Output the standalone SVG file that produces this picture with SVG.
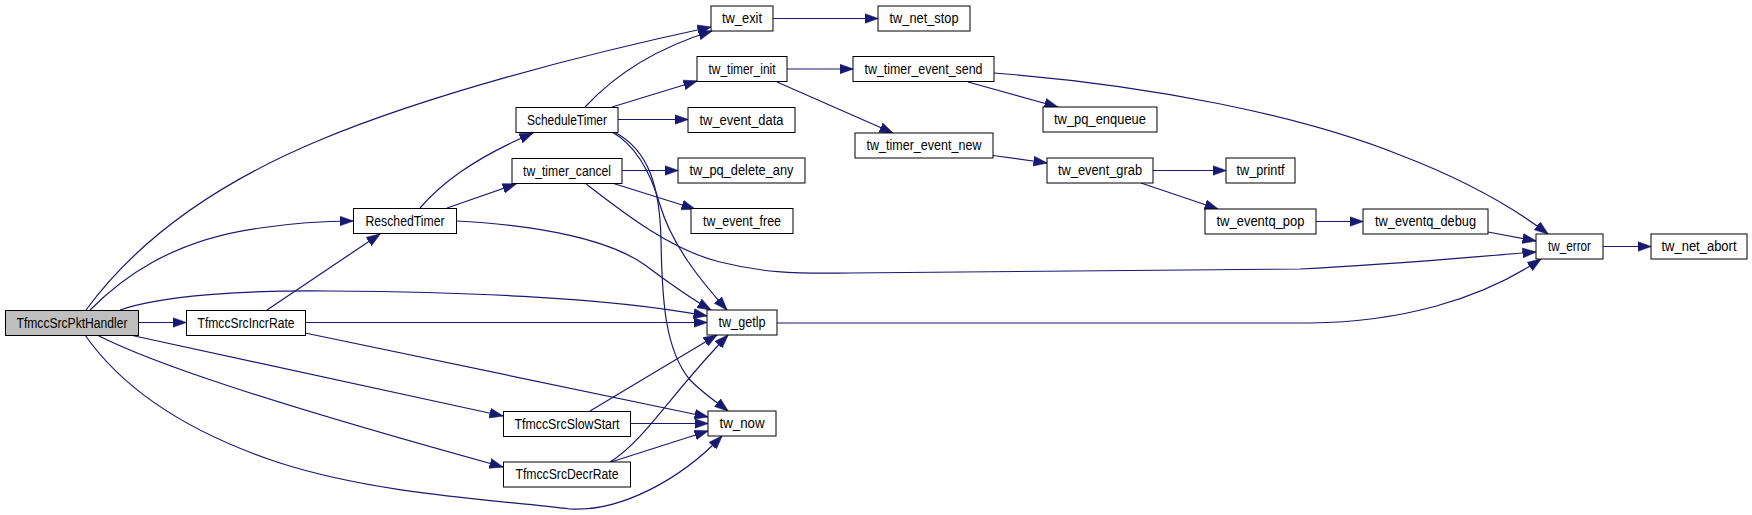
<svg xmlns="http://www.w3.org/2000/svg" width="1752" height="515" viewBox="0 0 1752 515">
<defs>
<marker id="ah" markerUnits="userSpaceOnUse" markerWidth="14" markerHeight="11" viewBox="0 0 14 11" refX="13.5" refY="5.5" orient="auto">
<path d="M0,0.5 L14,5.5 L0,10.5 z" fill="#191970" stroke="#191970" stroke-width="0.5"/>
</marker>
<style>
.n rect{fill:#fff;stroke:#000;stroke-width:1}
.n.root rect{fill:#bfbfbf}
.n text{font-family:"Liberation Sans",Arial,sans-serif;font-size:14px;fill:#000;text-anchor:middle}
#edges path{fill:none;stroke:#191970;stroke-width:1.2;marker-end:url(#ah)}
</style>
</defs>
<rect width="1752" height="515" fill="#fff"/>
<g id="edges">
<path d="M86,310 C130,250 200,190 320,140 C428,95 580,55 711,27"/>
<path d="M90,310 C120,280 170,240 260,228 C300,222 330,221 353,221"/>
<path d="M120,310 C160,296 240,290 330,291 C450,292 600,296 707,316"/>
<path d="M138,322.5 L186,322.5"/>
<path d="M130,335 L503,416"/>
<path d="M97,335 C150,362 260,400 503,467"/>
<path d="M85,335 C120,385 180,430 280,463 C380,495 500,500 570,509 C620,512 680,480 722,436"/>
<path d="M267,310 L380,234"/>
<path d="M305,322.5 L707,322.5"/>
<path d="M305,333 L708,417"/>
<path d="M420,208 C440,185 470,160 533,133"/>
<path d="M447,208 L516,184"/>
<path d="M456,221 C540,225 610,240 645,265 C665,280 690,298 711,310"/>
<path d="M585,107 C610,80 650,50 712,31"/>
<path d="M612,107 L697,81"/>
<path d="M618,119.5 L688,119.5"/>
<path d="M612,132 C635,145 650,170 660,205 C672,245 700,280 727,310"/>
<path d="M614,132 C650,150 660,190 661,240 C662,300 665,350 690,380 C705,395 718,403 728,411"/>
<path d="M622,170.5 L678,170.5"/>
<path d="M612,183 L695,209"/>
<path d="M585,183 C620,210 670,250 720,262 C760,272 790,274 850,273 L1300,269 C1400,264 1480,256 1536,252"/>
<path d="M787,69 L853,69"/>
<path d="M777,82 L893,133"/>
<path d="M968,82 L1058,107"/>
<path d="M994,73 C1150,85 1300,115 1400,155 C1460,178 1510,205 1548,234"/>
<path d="M993,155.5 L1047,163"/>
<path d="M1153,170.5 L1226,170.5"/>
<path d="M1141,183 L1218,209"/>
<path d="M1316,221.5 L1363,221.5"/>
<path d="M1488,232 L1536,241"/>
<path d="M777,323 L1310,323 C1400,322 1480,300 1541,259"/>
<path d="M773,18.5 L878,18.5"/>
<path d="M1603,246.5 L1651,246.5"/>
<path d="M590,411 L717,335"/>
<path d="M630,423.5 L708,423.5"/>
<path d="M610,462 C645,440 670,395 728,335"/>
<path d="M611,462 L708,431"/>
</g>
<g id="n_pkt" class="n root"><rect x="5.5" y="310.5" width="133" height="25"/><text x="72" y="327.5" textLength="111" lengthAdjust="spacingAndGlyphs">TfmccSrcPktHandler</text></g>
<g id="n_incr" class="n"><rect x="186.5" y="310.5" width="119" height="25"/><text x="246" y="327.5" textLength="97" lengthAdjust="spacingAndGlyphs">TfmccSrcIncrRate</text></g>
<g id="n_slow" class="n"><rect x="503.5" y="411.5" width="127" height="25"/><text x="567" y="428.5" textLength="105" lengthAdjust="spacingAndGlyphs">TfmccSrcSlowStart</text></g>
<g id="n_decr" class="n"><rect x="503.5" y="462" width="127" height="25"/><text x="567" y="479" textLength="103" lengthAdjust="spacingAndGlyphs">TfmccSrcDecrRate</text></g>
<g id="n_resched" class="n"><rect x="353.5" y="208.5" width="103" height="25"/><text x="405" y="225.5" textLength="79" lengthAdjust="spacingAndGlyphs">ReschedTimer</text></g>
<g id="n_sched" class="n"><rect x="516" y="107.5" width="102" height="25"/><text x="567" y="124.5" textLength="80" lengthAdjust="spacingAndGlyphs">ScheduleTimer</text></g>
<g id="n_cancel" class="n"><rect x="512" y="158.5" width="110" height="25"/><text x="567" y="175.5" textLength="88" lengthAdjust="spacingAndGlyphs">tw_timer_cancel</text></g>
<g id="n_exit" class="n"><rect x="711" y="6" width="62" height="25"/><text x="742" y="23" textLength="40" lengthAdjust="spacingAndGlyphs">tw_exit</text></g>
<g id="n_netstop" class="n"><rect x="878" y="6" width="92" height="25"/><text x="924" y="23" textLength="69" lengthAdjust="spacingAndGlyphs">tw_net_stop</text></g>
<g id="n_tinit" class="n"><rect x="697" y="56.5" width="90" height="25"/><text x="742" y="73.5" textLength="67" lengthAdjust="spacingAndGlyphs">tw_timer_init</text></g>
<g id="n_edata" class="n"><rect x="688" y="107.5" width="107" height="25"/><text x="741.5" y="124.5" textLength="84" lengthAdjust="spacingAndGlyphs">tw_event_data</text></g>
<g id="n_pqdel" class="n"><rect x="678" y="158" width="127" height="25"/><text x="741.5" y="175" textLength="104" lengthAdjust="spacingAndGlyphs">tw_pq_delete_any</text></g>
<g id="n_efree" class="n"><rect x="691" y="208.5" width="102" height="25"/><text x="742" y="225.5" textLength="78" lengthAdjust="spacingAndGlyphs">tw_event_free</text></g>
<g id="n_getlp" class="n"><rect x="707" y="310" width="70" height="25"/><text x="742" y="327" textLength="47" lengthAdjust="spacingAndGlyphs">tw_getlp</text></g>
<g id="n_now" class="n"><rect x="708" y="411" width="68" height="25"/><text x="742" y="428" textLength="45" lengthAdjust="spacingAndGlyphs">tw_now</text></g>
<g id="n_tesend" class="n"><rect x="853" y="56.5" width="141" height="25"/><text x="923.5" y="73.5" textLength="118" lengthAdjust="spacingAndGlyphs">tw_timer_event_send</text></g>
<g id="n_tenew" class="n"><rect x="855" y="133" width="138" height="25"/><text x="924" y="150" textLength="115" lengthAdjust="spacingAndGlyphs">tw_timer_event_new</text></g>
<g id="n_pqenq" class="n"><rect x="1043" y="107" width="114" height="25"/><text x="1100" y="124" textLength="92" lengthAdjust="spacingAndGlyphs">tw_pq_enqueue</text></g>
<g id="n_egrab" class="n"><rect x="1047" y="158" width="106" height="25"/><text x="1100" y="175" textLength="84" lengthAdjust="spacingAndGlyphs">tw_event_grab</text></g>
<g id="n_printf" class="n"><rect x="1226" y="158" width="69" height="25"/><text x="1260.5" y="175" textLength="48" lengthAdjust="spacingAndGlyphs">tw_printf</text></g>
<g id="n_qpop" class="n"><rect x="1205" y="209" width="111" height="25"/><text x="1260.5" y="226" textLength="88" lengthAdjust="spacingAndGlyphs">tw_eventq_pop</text></g>
<g id="n_qdebug" class="n"><rect x="1363" y="209" width="125" height="25"/><text x="1425.5" y="226" textLength="101" lengthAdjust="spacingAndGlyphs">tw_eventq_debug</text></g>
<g id="n_error" class="n"><rect x="1536" y="234" width="67" height="25"/><text x="1569.5" y="251" textLength="43" lengthAdjust="spacingAndGlyphs">tw_error</text></g>
<g id="n_abort" class="n"><rect x="1651" y="234" width="96" height="25"/><text x="1699" y="251" textLength="75" lengthAdjust="spacingAndGlyphs">tw_net_abort</text></g>
</svg>
